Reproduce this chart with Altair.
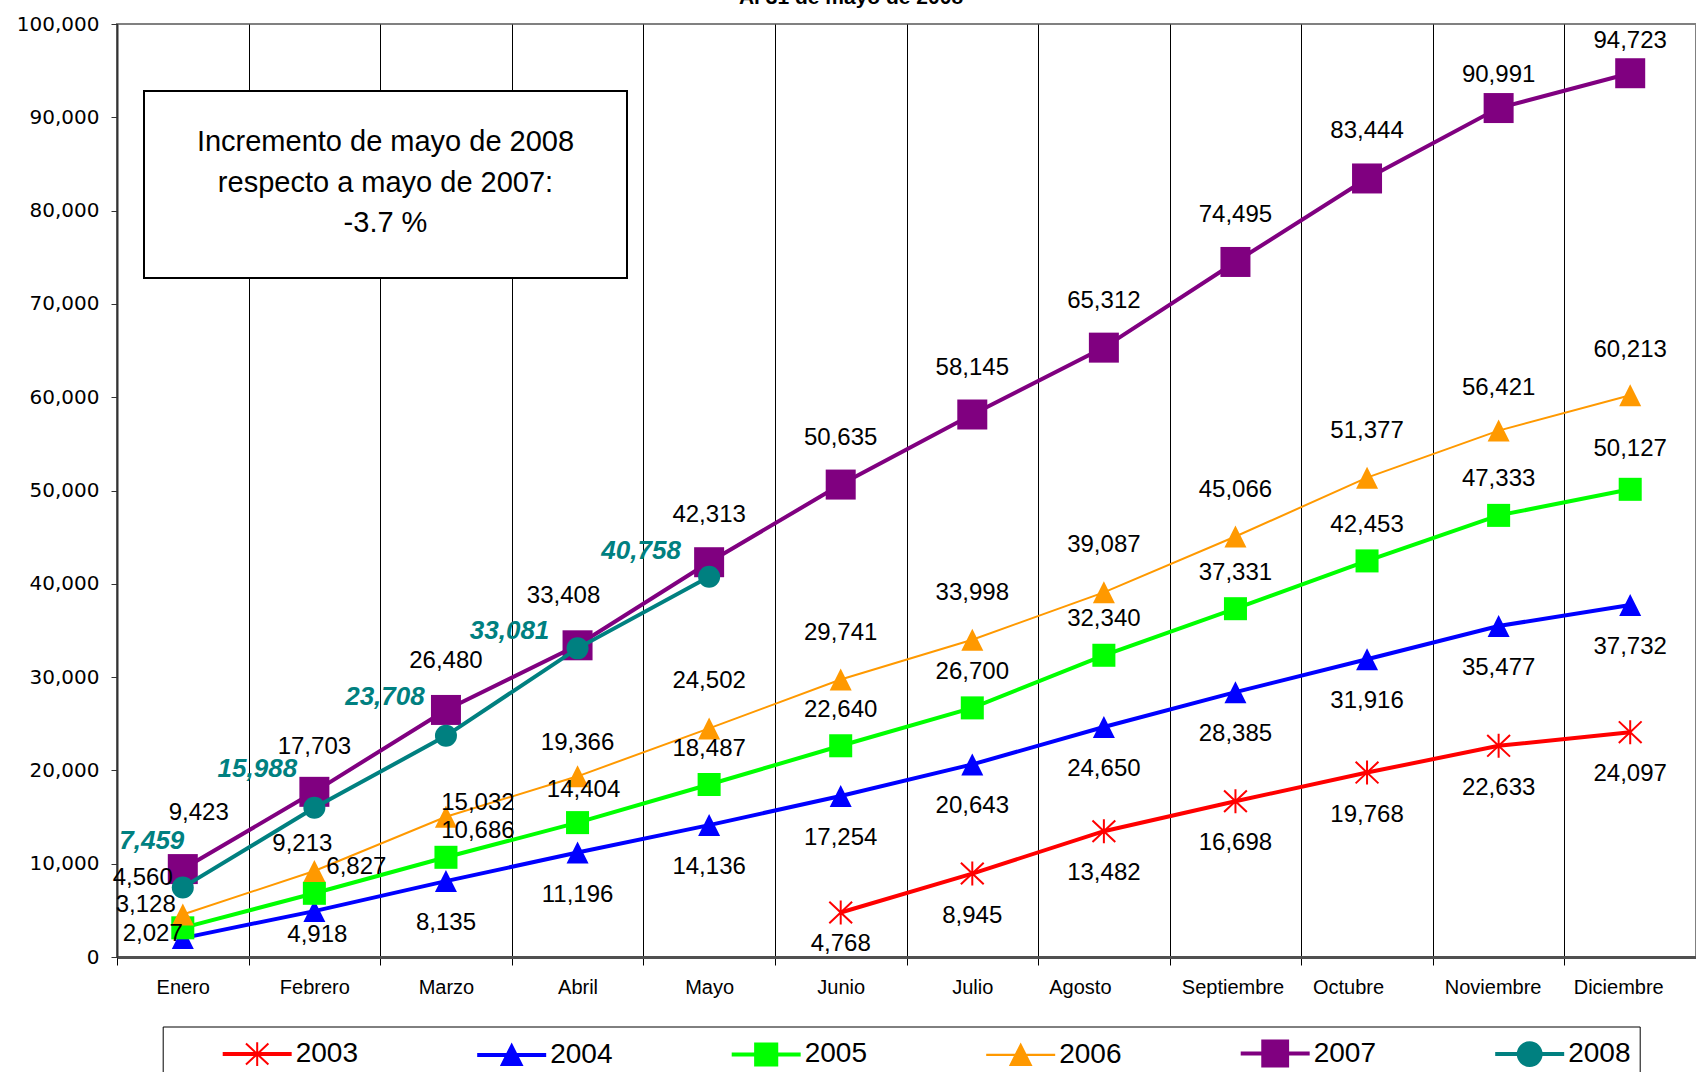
import altair as alt
import pandas as pd

# ---------------- data ----------------
months = ["Enero", "Febrero", "Marzo", "Abril", "Mayo", "Junio", "Julio",
          "Agosto", "Septiembre", "Octubre", "Noviembre", "Diciembre"]
years = ["2003", "2004", "2005", "2006", "2007", "2008"]

months_2003 = months[5:]
v2003 = [4768, 8945, 13482, 16698, 19768, 22633, 24097]
v2004 = [2027, 4918, 8135, 11196, 14136, 17254, 20643, 24650, 28385, 31916, 35477, 37732]
v2005 = [3128, 6827, 10686, 14404, 18487, 22640, 26700, 32340, 37331, 42453, 47333, 50127]
v2006 = [4560, 9213, 15032, 19366, 24502, 29741, 33998, 39087, 45066, 51377, 56421, 60213]
v2007 = [9423, 17703, 26480, 33408, 42313, 50635, 58145, 65312, 74495, 83444, 90991, 94723]
months_2008 = months[:5]
v2008 = [7459, 15988, 23708, 33081, 40758]

y_ticks = list(range(0, 100001, 10000))
box_lines = ["Incremento de mayo de 2008", "respecto a mayo de 2007:", "-3.7 %"]
title_text = "Al 31 de mayo de 2008"

series = {
    "2003": (months_2003, v2003),
    "2004": (months, v2004),
    "2005": (months, v2005),
    "2006": (months, v2006),
    "2007": (months, v2007),
    "2008": (months_2008, v2008),
}
rows = []
for yr, (ms, vs) in series.items():
    for m, v in zip(ms, vs):
        rows.append({"year": yr, "month": m, "value": v})
df = pd.DataFrame(rows)

# ---------------- styles ----------------
colors = {"2003": "#FF0000", "2004": "#0000FF", "2005": "#00FF00",
          "2006": "#FF9900", "2007": "#800080", "2008": "#008080"}
line_w = {"2003": 4, "2004": 4, "2005": 4, "2006": 2, "2007": 4, "2008": 4}
tri = "M0,-1L1,1L-1,1Z"
aster = "M0,-1L0,1M-0.95,-0.9L0.95,0.9M-0.95,0.9L0.95,-0.9"
markers = {
    "2003": dict(shape=aster, size=576, filled=False, strokeWidth=2),
    "2004": dict(shape=tri, size=484, filled=True),
    "2005": dict(shape="square", size=530, filled=True),
    "2006": dict(shape=tri, size=484, filled=True),
    "2007": dict(shape="square", size=900, filled=True),
    "2008": dict(shape="circle", size=484, filled=True),
}

label_default = {"2003": (0, 42), "2004": (0, 42), "2005": (0, -36),
                 "2006": (0, -47), "2007": (0, -47), "2008": (0, -40)}
label_override = {
    "2003": {"Junio": (0, 31)},
    "2004": {"Enero": (-30, -4), "Febrero": (3, 24)},
    "2005": {"Enero": (-37, -23), "Febrero": (42, -26), "Marzo": (32, -26),
             "Abril": (6, -33), "Diciembre": (0, -40)},
    "2006": {"Enero": (-40, -36), "Febrero": (-12, -27), "Marzo": (32, -14),
             "Abril": (0, -33), "Noviembre": (0, -43), "Diciembre": (0, -45)},
    "2007": {"Enero": (16, -56), "Febrero": (0, -45), "Marzo": (0, -49),
             "Abril": (-14, -49), "Noviembre": (0, -33), "Diciembre": (0, -32)},
    "2008": {"Enero": (-31, -46), "Febrero": (-57, -39), "Marzo": (-61, -39),
             "Abril": (-68, -17), "Mayo": (-68, -26)},
}

# horizontal nudges of month labels (as in the original rendering)
month_label_shift = {"Agosto": -24, "Septiembre": -3, "Octubre": -19,
                     "Noviembre": -6, "Diciembre": -12}

# legend symbol paths: line segment + marker (unit = sqrt(size)/2)
cx = 0.97
def lrect(h):
    return f"M-1,{-h}H2.94V{h}H-1Z"
def ltri(r):
    return f"M{cx},{-r}L{cx + r},{r}L{cx - r},{r}Z"
def lsq(r):
    return f"M{cx - r},{-r}H{cx + r}V{r}H{cx - r}Z"
def lcirc(r):
    return f"M{cx - r},0A{r},{r},0,1,1,{cx + r},0A{r},{r},0,1,1,{cx - r},0Z"
legend_paths = [
    lrect(0.06) + f"M{cx},-0.7V0.7M{cx - 0.66},-0.62L{cx + 0.66},0.62M{cx - 0.66},0.62L{cx + 0.66},-0.62",
    lrect(0.06) + ltri(0.6),
    lrect(0.06) + lsq(0.65),
    lrect(0.01) + ltri(0.6),
    lrect(0.06) + lsq(0.76),
    lrect(0.06) + lcirc(0.7),
]
color_list = [colors[y] for y in years]

FONT = "Liberation Sans"

label_offset_cond = {
    "condition": [{"test": f"datum.label == '{m}'", "value": s}
                  for m, s in month_label_shift.items()],
    "value": 0,
}

X = alt.X("month:N", sort=months,
          scale=alt.Scale(domain=months, paddingInner=0, paddingOuter=0),
          axis=alt.Axis(title=None, grid=True, gridColor="#000000", gridWidth=1,
                        gridOpacity=1, tickBand="extent", ticks=True, tickSize=8,
                        tickColor="#000000", tickWidth=1, domainColor="#505050",
                        domainWidth=3, labelAngle=0,
                        labelFont=FONT, labelFontSize=20,
                        labelColor="#000000", labelPadding=22,
                        labelBaseline="middle", labelOffset=label_offset_cond))
Y = alt.Y("value:Q", scale=alt.Scale(domain=[0, 100000], nice=False),
          axis=alt.Axis(title=None, values=y_ticks, format=",.0f", grid=False,
                        tickSize=6, tickColor="#333333", tickWidth=1,
                        domainColor="#333333", domainWidth=2,
                        labelFont="DejaVu Sans", labelFontSize=20,
                        labelColor="#000000", labelPadding=12))

layers = []

# annotation box
box = alt.Chart(pd.DataFrame({"k": [0]})).mark_rect(
    fill="white", stroke="black", strokeWidth=2).encode(
    x=alt.value(27), x2=alt.value(510), y=alt.value(67), y2=alt.value(254))
layers.append(box)
box_text = alt.Chart(pd.DataFrame({"t": ["\n".join(box_lines)]})).mark_text(
    font=FONT, fontSize=29, color="black", align="center", baseline="alphabetic",
    lineBreak="\n", lineHeight=40.5).encode(
    x=alt.value(268.5), y=alt.value(127), text="t:N")
layers.append(box_text)

title_layer = alt.Chart(pd.DataFrame({"t": [title_text]})).mark_text(
    font=FONT, fontSize=21, fontWeight="bold", color="black", align="center",
    baseline="alphabetic").encode(x=alt.value(734), y=alt.value(-20), text="t:N")
layers.append(title_layer)

for yr in years:
    base = alt.Chart().transform_filter(alt.FieldEqualPredicate(field="year", equal=yr))
    layers.append(base.mark_line(color=colors[yr], strokeWidth=line_w[yr]).encode(x=X, y=Y))
    mk = markers[yr]
    layers.append(base.mark_point(
        shape=mk["shape"], size=mk["size"], filled=mk["filled"], opacity=1,
        color=colors[yr], strokeWidth=mk.get("strokeWidth", 1)).encode(x=X, y=Y))

for yr in years:
    ms = series[yr][0]
    groups = {}
    for m in ms:
        off = label_override[yr].get(m, label_default[yr])
        groups.setdefault(off, []).append(m)
    for (dx, dy), gm in groups.items():
        if yr == "2008":
            style = dict(font=FONT, fontSize=26, fontWeight="bold", fontStyle="italic",
                         color="#008080")
        else:
            style = dict(font=FONT, fontSize=24, color="black")
        layers.append(
            alt.Chart()
            .transform_filter(alt.FieldEqualPredicate(field="year", equal=yr))
            .transform_filter(alt.FieldOneOfPredicate(field="month", oneOf=gm))
            .mark_text(dx=dx, dy=dy, align="center", baseline="middle", **style)
            .encode(x=X, y=Y, text=alt.Text("value:Q", format=","))
        )

leg = alt.Legend(
    orient="none", legendX=45.7, legendY=1002.5, direction="horizontal", columns=6,
    padding=9, strokeColor="#000000", fillColor="white",
    title=" ", titleOrient="left", titleFontSize=1, titlePadding=51,
    titleColor="white",
    labelFont=FONT, labelFontSize=28, labelColor="#000000", labelOffset=37,
    columnPadding=115.5, symbolSize=1156, symbolStrokeWidth=2, labelLimit=300,
    labelExpr="datum.label == '2008' ? datum.label + '\u2003\u2002' : datum.label",
)
legend_layer = alt.Chart(pd.DataFrame({"year": years})).transform_filter("false").mark_point(
    filled=True, opacity=1, strokeWidth=2, size=1156).encode(
    shape=alt.Shape("year:N", scale=alt.Scale(domain=years, range=legend_paths), legend=leg),
    fill=alt.Fill("year:N", scale=alt.Scale(domain=years, range=color_list), legend=leg),
    stroke=alt.Stroke("year:N", scale=alt.Scale(domain=years, range=color_list), legend=leg),
)
layers.append(legend_layer)

chart = alt.layer(*layers, data=df).properties(
    width=1579, height=933,
    autosize=alt.AutoSizeParams(type="none"),
    padding={"left": 117, "top": 24, "right": 0, "bottom": 115},
    background="white",
).configure_view(stroke="#808080", strokeWidth=2)

chart.save("out.html", embed_options={"renderer": "svg", "actions": False})
